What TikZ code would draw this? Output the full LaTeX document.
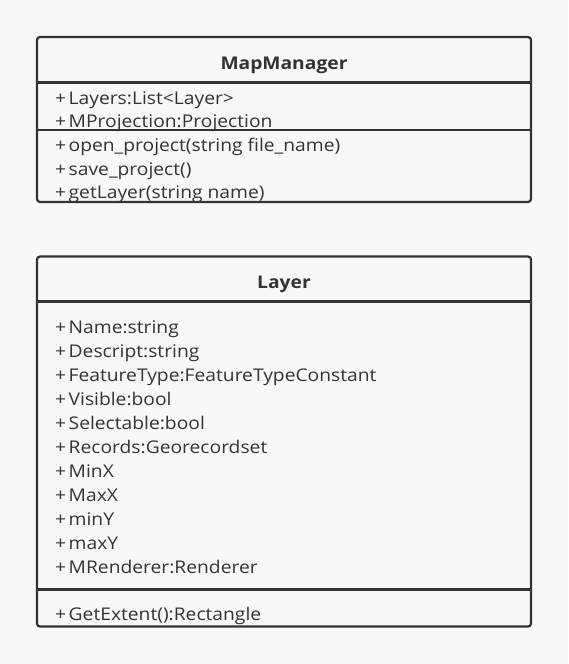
\documentclass[tikz,border=0pt]{standalone}
\usepackage{fontspec}
\setmainfont{Open Sans}[FakeStretch=1.1]
\usepackage{xcolor}
\usepackage{tikz}
\usetikzlibrary{calc}
\definecolor{umlline}{HTML}{333333}
\definecolor{umlbg}{HTML}{F8F8F8}

\begin{document}
\begin{tikzpicture}[x=1pt,y=-1pt,
  attr/.style={anchor=base west,inner sep=0pt,text=umlline,font=\fontsize{17.5}{20}\selectfont},
  title/.style={anchor=base,inner sep=0pt,text=umlline,font=\fontsize{17.5}{20}\selectfont\bfseries}]
\fill[umlbg] (0,0) rectangle (568,664);
% MapManager class
\draw[umlline,line width=2.2pt,rounded corners=3pt] (37,37) rectangle (531,202);
\draw[umlline,line width=2.2pt] (37,82.5) -- (531,82.5);
\draw[umlline,line width=2.2pt] (37,130) -- (531,130);
\node[title] (mm) at (284,69) {MapManager};
\foreach \y/\ytext in {104/Layers:List<Layer>, 127.5/MProjection:Projection, 151.5/open\_project(string file\_name), 175/save\_project(), 198.5/getLayer(string name)}
    \node[attr] (mm\y) at (55,\y) {+\kern2.5pt\ytext};
% Layer class
\draw[umlline,line width=2.2pt,rounded corners=3pt] (37,256.5) rectangle (531,626.5);
\draw[umlline,line width=2.2pt] (37,301.5) -- (531,301.5);
\draw[umlline,line width=2.2pt] (37,589.5) -- (531,589.5);
\node[title] (ly) at (284,288) {Layer};
\foreach \y/\ytext in {333/Name:string, 357/Descript:string, 381/FeatureType:FeatureTypeConstant, 405/Visible:bool, 429/Selectable:bool, 453/Records:Georecordset, 477/MinX, 501/MaxX, 525/minY, 549/maxY, 573/MRenderer:Renderer, 620/GetExtent():Rectangle}
    \node[attr] (ly\y) at (55,\y) {+\kern2.5pt\ytext};
\end{tikzpicture}
\end{document}
